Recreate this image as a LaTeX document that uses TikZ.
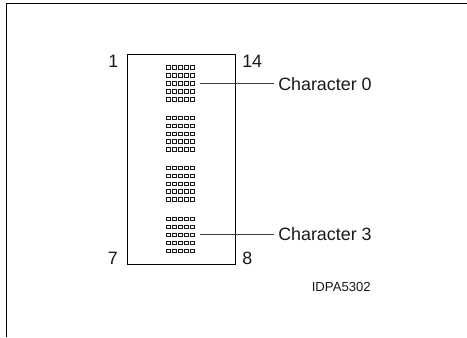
\documentclass[tikz,border=0pt]{standalone}
\usepackage{fontspec}
\setmainfont{Liberation Sans}
\tikzset{
  x=0.75pt,y=-0.75pt,
  lab/.style={inner sep=0pt,font=\fontsize{13.4}{16}\selectfont,text=black!90},
  small/.style={inner sep=0pt,font=\fontsize{9.85}{12}\selectfont,text=black!90},
  pinrect/.style={draw=black!90,line width=0.6pt},
  lead/.style={draw=black!75,line width=0.7pt},
  chip/.style={draw=black,line width=0.85pt,rectangle,inner sep=0pt,anchor=north west,minimum width=81.4pt,minimum height=157.9pt},
  frame/.style={draw=black,line width=0.85pt}
}
\begin{document}
\begin{tikzpicture}
\useasboundingbox (0,0) rectangle (467,337);
\draw[frame] (6.5,337) -- (6.5,3.5) -- (467,3.5);
\node[chip] (chipbox) at (126.5,53.5) {};
\foreach \gy in {65.6,116,166,217.3}{
  \foreach \r in {0,1,2,3,4}{
    \foreach \c in {0,1,2,3,4}{
      \draw[pinrect] (166.5+\c*6,\gy+\r*7.95) rectangle +(4.2,3.5);
    }
  }
}
\coordinate (c0) at (200,83.5);
\coordinate (c3) at (200,234.7);
\coordinate (e0) at (274,83.5);
\coordinate (e3) at (274,234.7);
\node[lab,anchor=west] (t0) at (278,84.5) {Character 0};
\node[lab,anchor=west] (t3) at (278,234.2) {Character 3};
\draw[lead] (c0) -- (e0);
\draw[lead] (c3) -- (e3);
\node[lab,anchor=east] (p1) at (118.5,61.5) {1};
\node[lab,anchor=west] (p14) at (242,61.5) {14};
\node[lab,anchor=east] (p7) at (118,258) {7};
\node[lab,anchor=west] (p8) at (242,258) {8};
\node[small,anchor=east] (id) at (371,287) {IDPA5302};
\end{tikzpicture}
\end{document}
